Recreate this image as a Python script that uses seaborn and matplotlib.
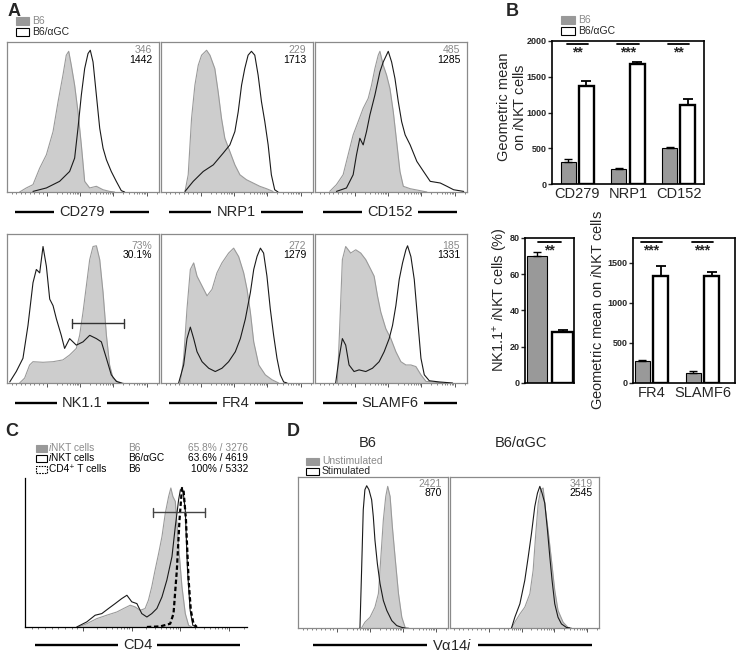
import numpy as np
import pandas as pd
import matplotlib
matplotlib.use("Agg")
import matplotlib.pyplot as plt
import seaborn as sns
from matplotlib.lines import Line2D
from matplotlib.patches import Rectangle

# ---------------- data ----------------
# Flow histograms: x = % of axis width, y = % of axis height
CD279_B6_X = [8.3, 12.7, 17.1, 21.5, 25.9, 30.3, 33.6, 36.8, 39.0, 40.6, 42.3, 44.5, 46.7, 48.9, 51.1, 54.4, 58.8, 63.2, 67.5, 70.8]
CD279_B6_Y = [0, 2.7, 4.9, 15.9, 24.8, 40.3, 60.2, 77.9, 91.2, 93.8, 84.5, 71.2, 53.5, 31.4, 7.1, 2.7, 3.8, 1.5, 0.4, 0]
CD279_AGC_X = [17.1, 25.9, 34.6, 41.2, 44.5, 46.7, 48.9, 51.1, 53.3, 54.8, 56.6, 58.8, 61.0, 63.2, 65.4, 68.6, 71.9, 75.2, 77.4]
CD279_AGC_Y = [0.4, 2.7, 7.1, 13.7, 22.6, 42.5, 64.6, 82.3, 92.3, 94.5, 86.7, 64.6, 42.5, 29.2, 21.5, 13.7, 7.1, 0.9, 0]

NRP1_B6_X = [15.8, 17.9, 20.1, 22.3, 24.5, 26.7, 30.0, 32.2, 35.4, 37.6, 39.8, 42.0, 45.3, 48.6, 51.9, 56.2, 60.6, 65.0, 69.4, 73.7]
NRP1_B6_Y = [0.4, 11.5, 49.1, 71.2, 84.5, 91.2, 94.5, 91.2, 82.3, 66.8, 49.1, 35.8, 27.0, 18.1, 11.5, 8.2, 6.0, 3.8, 2.2, 0.4]
NRP1_AGC_X = [15.8, 21.2, 27.8, 34.4, 40.9, 45.3, 48.6, 50.8, 53.0, 55.1, 57.3, 59.5, 61.7, 63.9, 66.1, 68.3, 70.5, 72.6, 74.8, 77.0]
NRP1_AGC_Y = [0.4, 7.1, 13.7, 18.1, 25.9, 31.4, 40.3, 53.5, 71.2, 82.3, 91.2, 93.8, 91.2, 77.9, 60.2, 46.9, 31.4, 11.5, 1.5, 0]

CD152_B6_X = [9.7, 14.1, 18.5, 21.8, 25.1, 28.4, 31.7, 35.0, 37.2, 39.4, 41.6, 42.7, 44.9, 47.1, 49.3, 51.5, 53.7, 55.9, 58.1, 62.6, 69.2, 73.6]
CD152_B6_Y = [0.4, 4.9, 11.5, 24.8, 38.1, 46.9, 55.8, 62.4, 71.2, 82.3, 91.2, 93.8, 84.5, 77.9, 69.0, 53.5, 33.6, 13.7, 3.8, 2.2, 0.9, 0]
CD152_AGC_X = [14.1, 20.7, 25.1, 27.3, 29.5, 31.7, 33.9, 36.1, 39.4, 42.7, 44.9, 48.2, 50.4, 52.6, 54.8, 57.0, 59.3, 62.6, 67.0, 71.4, 75.8, 82.4, 86.8, 91.2, 97.8]
CD152_AGC_Y = [0.4, 2.7, 11.5, 24.8, 35.8, 31.4, 40.3, 51.3, 64.6, 80.1, 86.7, 93.8, 86.7, 75.7, 60.2, 46.9, 38.1, 31.4, 20.4, 13.7, 7.1, 6.0, 3.8, 1.5, 0.4]

NK11_B6_X = [8.3, 11.6, 14.9, 17.1, 23.7, 30.3, 36.8, 41.2, 45.6, 47.8, 50.0, 52.2, 54.4, 56.6, 58.8, 61.0, 63.2, 65.4, 67.5, 69.7, 73.0, 76.3]
NK11_B6_Y = [0, 3.3, 12.1, 14.3, 13.9, 14.3, 15.5, 18.8, 23.2, 32.0, 47.5, 65.1, 82.8, 91.6, 92.1, 82.8, 60.7, 32.0, 12.1, 3.3, 0.7, 0]
NK11_AGC_X = [1.8, 6.1, 10.5, 13.8, 17.1, 19.3, 21.5, 23.7, 25.9, 28.1, 30.3, 32.5, 35.7, 37.9, 41.2, 45.6, 50.0, 54.4, 58.8, 62.1, 65.4, 68.6, 71.9, 75.2]
NK11_AGC_Y = [0.7, 7.7, 16.6, 38.6, 67.3, 76.2, 73.9, 91.6, 78.4, 56.3, 51.9, 43.0, 32.0, 23.2, 29.8, 25.4, 27.6, 32.0, 29.8, 27.6, 16.6, 5.5, 1.1, 0]

FR4_B6_X = [12.7, 14.9, 17.1, 19.3, 21.5, 23.7, 27.0, 30.3, 33.6, 36.8, 40.1, 44.5, 47.8, 51.1, 54.4, 56.6, 58.8, 61.0, 64.3, 68.6, 73.0, 77.4]
FR4_B6_Y = [0, 16.6, 49.7, 76.2, 80.6, 71.7, 65.1, 58.5, 62.9, 73.9, 80.6, 87.2, 90.5, 84.8, 73.9, 62.9, 47.5, 27.6, 12.1, 5.5, 2.2, 0]
FR4_AGC_X = [11.6, 14.9, 17.1, 19.3, 21.5, 23.7, 27.0, 31.4, 35.7, 40.1, 44.5, 48.9, 52.2, 55.5, 58.8, 61.0, 63.2, 65.4, 67.5, 69.7, 71.9, 74.1, 76.3, 78.5, 80.7, 82.9]
FR4_AGC_Y = [0, 12.1, 29.8, 37.5, 29.8, 21.0, 14.3, 9.9, 7.7, 9.9, 14.3, 21.0, 29.8, 43.0, 60.7, 76.2, 85.0, 90.5, 87.2, 71.7, 49.7, 32.0, 16.6, 5.5, 0.7, 0]

SLAMF6_B6_X = [14.7, 16.3, 18.0, 20.2, 23.5, 26.8, 30.1, 33.4, 36.7, 38.9, 41.1, 43.3, 46.6, 49.9, 53.2, 56.5, 59.8, 63.1, 66.4, 69.7, 73.0, 84.0]
SLAMF6_B6_Y = [0, 38.6, 82.8, 91.6, 87.2, 89.4, 87.2, 82.8, 76.2, 71.7, 58.5, 47.5, 36.4, 29.8, 21.0, 14.3, 12.1, 12.1, 11.0, 5.5, 1.1, 0]
SLAMF6_AGC_X = [13.6, 15.8, 18.0, 20.2, 22.4, 25.7, 29.0, 33.4, 37.8, 42.2, 45.5, 48.8, 51.0, 53.2, 55.4, 57.6, 59.8, 60.9, 63.1, 65.3, 67.5, 69.7, 71.9, 75.2, 81.8, 90.5]
SLAMF6_AGC_Y = [0, 16.6, 29.8, 25.4, 12.1, 7.7, 8.8, 7.7, 9.9, 14.3, 21.0, 29.8, 38.6, 51.9, 69.5, 80.6, 89.4, 92.1, 84.8, 69.5, 43.0, 16.6, 5.5, 1.5, 0.7, 0]

A_MARKERS = ["CD279", "NRP1", "CD152", "NK1.1", "FR4", "SLAMF6"]
A_B6_VALUES = ["346", "229", "485", "73%", "272", "185"]
A_AGC_VALUES = ["1442", "1713", "1285", "30.1%", "1279", "1331"]

# Panel C (CD4)
C_NKT_B6_X = [24.1, 27.8, 32.3, 36.8, 41.4, 44.4, 47.4, 49.6, 51.9, 54.1, 55.6, 57.1, 58.6, 60.2, 61.7, 63.2, 64.7, 65.7, 66.6, 67.7, 69.2, 70.7, 72.2, 73.7, 75.2]
C_NKT_B6_Y = [0, 2.2, 5.6, 7.9, 10.1, 12.4, 14.6, 13.5, 11.2, 12.4, 18.0, 27.0, 38.2, 49.4, 60.7, 76.4, 87.6, 93.3, 87.6, 84.3, 53.9, 27.0, 9.0, 1.1, 0]
C_NKT_AGC_X = [23.3, 27.8, 31.6, 34.6, 37.6, 40.6, 43.6, 45.9, 48.1, 50.4, 52.6, 54.9, 57.1, 59.4, 61.7, 63.9, 66.2, 67.7, 69.2, 70.0, 71.1, 72.2, 73.2, 74.4, 75.6, 77.1]
C_NKT_AGC_Y = [0, 3.4, 7.9, 9.0, 12.4, 15.7, 19.1, 21.3, 16.9, 15.7, 9.0, 6.7, 9.0, 12.4, 20.2, 31.5, 47.2, 67.4, 85.4, 92.1, 92.1, 78.7, 38.2, 11.2, 1.1, 0]
C_CD4T_X = [54.9, 60.9, 65.4, 66.9, 68.4, 69.6, 70.7, 71.4, 72.5, 73.7, 74.7, 75.9, 77.4]
C_CD4T_Y = [0, 0.4, 2.2, 9.0, 38.2, 71.9, 93.3, 92.1, 71.9, 31.5, 11.2, 2.2, 0]
C_ROW_PREFIX = ["i", "i", ""]
C_ROWS = ["NKT cells", "NKT cells", "CD4⁺ T cells"]
C_GROUPS = ["B6", "B6/αGC", "B6"]
C_STATS = ["65.8% / 3276", "63.6% / 4619", "100% / 5332"]

# Panel D (Va14i)
D_B6_UNSTIM_X = [42.4, 44.6, 48.0, 51.3, 53.6, 55.4, 56.9, 58.5, 59.8, 61.4, 62.9, 64.7, 67.0, 69.2, 71.4, 73.7]
D_B6_UNSTIM_Y = [0, 3.8, 7.1, 13.8, 22.7, 49.3, 71.6, 87.1, 93.8, 87.1, 67.1, 47.1, 22.7, 7.1, 0.4, 0]
D_B6_STIM_X = [41.3, 42.4, 43.5, 44.6, 45.8, 47.3, 49.1, 50.2, 51.3, 52.9, 54.7, 56.9, 59.2, 62.5, 65.8, 69.2, 71.4]
D_B6_STIM_Y = [0, 38.2, 78.2, 91.6, 94.2, 91.6, 84.9, 73.8, 58.2, 42.7, 29.3, 18.2, 11.6, 4.9, 1.6, 0.4, 0]
D_AGC_UNSTIM_X = [41.3, 43.5, 46.9, 50.2, 53.6, 55.8, 57.4, 59.2, 60.9, 62.5, 64.1, 65.8, 68.1, 70.3, 72.5, 75.9, 79.2, 81.5]
D_AGC_UNSTIM_Y = [0, 3.8, 9.3, 13.8, 22.7, 38.2, 60.4, 82.7, 91.6, 92.7, 78.2, 64.9, 44.9, 24.9, 11.6, 3.8, 0.4, 0]
D_AGC_STIM_X = [41.3, 43.5, 46.9, 50.2, 52.5, 54.7, 56.9, 58.7, 60.3, 61.8, 63.6, 65.4, 67.0, 68.5, 70.3, 72.5, 74.8, 78.1, 80.4]
D_AGC_STIM_Y = [0, 7.1, 16.0, 31.6, 47.1, 62.7, 80.4, 89.3, 93.8, 89.3, 82.7, 64.9, 47.1, 31.6, 16.0, 7.1, 2.7, 0.4, 0]
D_TITLES = ["B6", "B6/αGC"]
D_UNSTIM_VALUES = ["2421", "3419"]
D_STIM_VALUES = ["870", "2545"]

# Panel B bar charts
B_TOP_MARKERS = ["CD279", "NRP1", "CD152"]
B_TOP_B6 = [310, 210, 510]
B_TOP_B6_ERR = [35, 20, 10]
B_TOP_AGC = [1370, 1680, 1100]
B_TOP_AGC_ERR = [70, 30, 90]
B_TOP_STARS = ["**", "***", "**"]

B_NK_GROUPS = ["B6", "B6/αGC"]
B_NK_VALUES = [70, 28]
B_NK_ERR = [2, 1]
B_NK_STARS = ["**"]

B_BOT_MARKERS = ["FR4", "SLAMF6"]
B_BOT_B6 = [270, 125]
B_BOT_B6_ERR = [15, 25]
B_BOT_AGC = [1330, 1335]
B_BOT_AGC_ERR = [130, 45]
B_BOT_STARS = ["***", "***"]

# ---------------- style ----------------
sns.set_style("white")
plt.rcParams["font.family"] = ["Liberation Sans", "DejaVu Sans"]
plt.rcParams["mathtext.fontset"] = "custom"
plt.rcParams["mathtext.rm"] = "Liberation Sans"
plt.rcParams["mathtext.it"] = "Liberation Sans:italic"
plt.rcParams["mathtext.bf"] = "Liberation Sans:bold"

W, H = 739, 655
FILL = "#cdcdcd"
FILL_EDGE = "#9a9a9a"
BAR_GRAY = "#999999"
TXT_GRAY = "#8a8a8a"
FRAME = "#8a8a8a"

fig = plt.figure(figsize=(W / 100, H / 100), dpi=100)
fig.patch.set_facecolor("white")
RENDERER = fig.canvas.get_renderer()


def fx(px):
    return px / W


def fy(py):
    return 1 - py / H


def add_ax(l, t, r, b):
    return fig.add_axes([l / W, 1 - b / H, (r - l) / W, (b - t) / H])


def ftext(x, y, s, **kw):
    kw.setdefault("va", "center")
    return fig.text(fx(x), fy(y), s, **kw)


def text_right_px(t):
    bb = t.get_window_extent(RENDERER)
    return bb.x0, bb.x1


def fline(x0, x1, y, lw=1.7, color="black"):
    fig.add_artist(Line2D([fx(x0), fx(x1)], [fy(y), fy(y)], transform=fig.transFigure,
                          color=color, lw=lw, solid_capstyle="butt"))


def fpatch(x0, yc, w, h, fc, ec, ls="-", lw=0.8):
    fig.add_artist(Rectangle((fx(x0), fy(yc + h / 2)), w / W, h / H, transform=fig.transFigure,
                             fc=fc, ec=ec, ls=ls, lw=lw))


def flow_ticks(ax, color="#555555"):
    major = [26, 48, 70, 92]
    minor = [3, 6, 9, 12, 15, 18, 21, 23.5]
    for i in range(len(major) - 1):
        for k in range(2, 10):
            minor.append(major[i] + (major[i + 1] - major[i]) * np.log10(k))
    for k in range(2, 10):
        v = 92 + 22 * np.log10(k)
        if v < 100:
            minor.append(v)
    ax.set_xticks(major)
    ax.set_xticks(minor, minor=True)
    ax.set_xticklabels([])
    ax.set_yticks([])
    ax.tick_params(axis="x", which="major", direction="out", length=3, width=0.7, color=color, bottom=True)
    ax.tick_params(axis="x", which="minor", direction="out", length=1.7, width=0.5, color=color, bottom=True)


def draw_hist(ax, gx, gy, bx, by, frame_color=FRAME, all_spines=True):
    ax.fill_between(gx, gy, 0, color=FILL, lw=0, zorder=1)
    sns.lineplot(x=gx, y=gy, ax=ax, color=FILL_EDGE, lw=0.8, estimator=None, sort=False, zorder=2)
    sns.lineplot(x=bx, y=by, ax=ax, color="#1a1a1a", lw=0.8, estimator=None, sort=False, zorder=3)
    ax.set_xlim(0, 100)
    ax.set_ylim(0, 100)
    ax.set_xlabel("")
    ax.set_ylabel("")
    ax.set_facecolor("white")
    flow_ticks(ax)
    for name, sp in ax.spines.items():
        sp.set_color(frame_color)
        sp.set_linewidth(0.9)
        if not all_spines and name in ("top", "right"):
            sp.set_visible(False)


def axis_label(l, r, y, text):
    """Marker name under a histogram, with a bar on either side."""
    t = ftext((l + r) / 2, y, text, ha="center", fontsize=10.5)
    x0, x1 = text_right_px(t)
    fline(l, x0 - 5, y)
    fline(x1 + 5, r, y)


def gate(ax, x0, x1, y, color="#333333"):
    ax.plot([x0, x1], [y, y], color=color, lw=1.0, zorder=4)
    for xx in (x0, x1):
        ax.plot([xx, xx], [y - 3, y + 3], color=color, lw=1.0, zorder=4)


# ---------------- Panel A ----------------
ftext(14, 11, "A", ha="center", fontsize=13, fontweight="bold")
fpatch(16, 21, 13, 8, BAR_GRAY, BAR_GRAY)
fpatch(16, 32, 13, 8, "white", "black")
ftext(32, 21, "B6", fontsize=7.5, color=TXT_GRAY)
ftext(32, 32, "B6/αGC", fontsize=7.5)

a_boxes = [(7, 42, 159, 192), (161, 42, 313, 192), (315, 42, 467, 192),
           (7, 234, 159, 383), (161, 234, 313, 383), (315, 234, 467, 383)]
a_curves = [(CD279_B6_X, CD279_B6_Y, CD279_AGC_X, CD279_AGC_Y),
            (NRP1_B6_X, NRP1_B6_Y, NRP1_AGC_X, NRP1_AGC_Y),
            (CD152_B6_X, CD152_B6_Y, CD152_AGC_X, CD152_AGC_Y),
            (NK11_B6_X, NK11_B6_Y, NK11_AGC_X, NK11_AGC_Y),
            (FR4_B6_X, FR4_B6_Y, FR4_AGC_X, FR4_AGC_Y),
            (SLAMF6_B6_X, SLAMF6_B6_Y, SLAMF6_AGC_X, SLAMF6_AGC_Y)]
for i, (box, cur) in enumerate(zip(a_boxes, a_curves)):
    ax = add_ax(*box)
    draw_hist(ax, *cur)
    h = box[3] - box[1]
    off1, off2 = (8, 18) if i < 3 else (12, 21)
    ax.text(95.5, 100 - off1 / h * 100, A_B6_VALUES[i], ha="right", va="center", fontsize=7.5, color=TXT_GRAY)
    ax.text(95.5, 100 - off2 / h * 100, A_AGC_VALUES[i], ha="right", va="center", fontsize=7.5, color="black")
    if A_MARKERS[i] == "NK1.1":
        gate(ax, 43, 77, 40)
    ly = 212 if i < 3 else 403
    axis_label(box[0] + 8, box[2] - 10, ly, A_MARKERS[i])

# ---------------- Panel B ----------------
ftext(512, 11, "B", ha="center", fontsize=13, fontweight="bold")
fpatch(561, 20, 14, 8, BAR_GRAY, BAR_GRAY)
fpatch(561, 31, 14, 8, "white", "black")
ftext(578, 20, "B6", fontsize=7.5, color=TXT_GRAY)
ftext(578, 31, "B6/αGC", fontsize=7.5)


def style_bar_axes(ax, yticks, ylim, xlim):
    ax.set_ylim(*ylim)
    ax.set_xlim(*xlim)
    ax.set_yticks(yticks)
    ax.set_yticklabels([str(v) for v in yticks], fontweight="bold")
    ax.tick_params(axis="y", direction="out", length=3, width=1, labelsize=6.5, pad=1, left=True)
    ax.tick_params(axis="x", length=0, labelsize=10.5, pad=2)
    ax.set_xlabel("")
    ax.set_ylabel("")
    for sp in ax.spines.values():
        sp.set_color("black")
        sp.set_linewidth(1.2)


def finish_bars(ax, err_lookup):
    for p in ax.patches:
        cx = p.get_x() + p.get_width() / 2
        top = p.get_height()
        white = p.get_facecolor()[0] > 0.9
        p.set_edgecolor("black")
        p.set_linewidth(1.7 if white else 0.8)
        e = err_lookup(int(round(cx)), white)
        ax.errorbar([cx], [top], yerr=[[0], [e]], fmt="none", ecolor="black",
                    elinewidth=1.3 if white else 1.0, capsize=3.5 if white else 3,
                    capthick=1.3 if white else 1.0, zorder=5)


def sig(ax, centers, stars, line_y, star_y, half=0.21):
    for c, s in zip(centers, stars):
        ax.plot([c - half, c + half], [line_y, line_y], color="black", lw=1.3, clip_on=False)
        ax.text(c, star_y, s, ha="center", va="top", fontsize=10, fontweight="bold")


# top bar chart
axb = add_ax(552, 41, 704, 184)
df_top = pd.DataFrame({"marker": B_TOP_MARKERS * 2,
                       "group": ["B6"] * 3 + ["B6/αGC"] * 3,
                       "value": B_TOP_B6 + B_TOP_AGC})
sns.barplot(data=df_top, x="marker", y="value", hue="group",
            palette={"B6": BAR_GRAY, "B6/αGC": "white"}, width=0.72, gap=0.17,
            errorbar=None, legend=False, ax=axb)
finish_bars(axb, lambda i, w: B_TOP_AGC_ERR[i] if w else B_TOP_B6_ERR[i])
style_bar_axes(axb, [0, 500, 1000, 1500, 2000], (0, 2000), (-0.5, 2.5))
sig(axb, [0, 1, 2], B_TOP_STARS, 1955, 1935)
ftext(504, 107, "Geometric mean", rotation=90, ha="center", fontsize=10.5)
ftext(519, 107, "on $\\mathit{i}$NKT cells", rotation=90, ha="center", fontsize=10.5)

# NK1.1 percentage chart
axn = add_ax(525, 238, 574, 383)
df_nk = pd.DataFrame({"group": B_NK_GROUPS, "value": B_NK_VALUES})
sns.barplot(data=df_nk, x="group", y="value", hue="group",
            palette={"B6": BAR_GRAY, "B6/αGC": "white"}, width=0.8,
            errorbar=None, legend=False, ax=axn)
finish_bars(axn, lambda i, w: B_NK_ERR[i])
style_bar_axes(axn, [0, 20, 40, 60, 80], (0, 80), (-0.47, 1.45))
axn.set_xticklabels([])
sig(axn, [0.5], B_NK_STARS, 77.6, 77.0, half=0.45)
ftext(500, 300, "NK1.1$^{+}$ $\\mathit{i}$NKT cells (%)", rotation=90, ha="center", fontsize=10.5)

# FR4 / SLAMF6 chart
axf = add_ax(633, 238, 735, 383)
df_bot = pd.DataFrame({"marker": B_BOT_MARKERS * 2,
                       "group": ["B6"] * 2 + ["B6/αGC"] * 2,
                       "value": B_BOT_B6 + B_BOT_AGC})
sns.barplot(data=df_bot, x="marker", y="value", hue="group",
            palette={"B6": BAR_GRAY, "B6/αGC": "white"}, width=0.72, gap=0.17,
            errorbar=None, legend=False, ax=axf)
finish_bars(axf, lambda i, w: B_BOT_AGC_ERR[i] if w else B_BOT_B6_ERR[i])
style_bar_axes(axf, [0, 500, 1000, 1500], (0, 1810), (-0.36, 1.64))
sig(axf, [0, 1], B_BOT_STARS, 1762, 1745)
ftext(597, 310, "Geometric mean on $\\mathit{i}$NKT cells", rotation=90, ha="center", fontsize=10.5)

# ---------------- Panel C ----------------
ftext(12, 432, "C", ha="center", fontsize=13, fontweight="bold")
c_styles = [(BAR_GRAY, BAR_GRAY, "-"), ("white", "black", "-"), ("white", "black", (0, (1.5, 1)))]
c_colors = [TXT_GRAY, "black", "black"]
for k, y in enumerate([448, 458, 469]):
    fc, ec, ls = c_styles[k]
    fpatch(36, y, 11, 7, fc, ec, ls=ls)
    x_next = 49
    if C_ROW_PREFIX[k]:
        t = ftext(x_next, y, C_ROW_PREFIX[k], fontsize=7.3, color=c_colors[k], style="italic")
        x_next = text_right_px(t)[1]
    ftext(x_next, y, C_ROWS[k], fontsize=7.3, color=c_colors[k])
    ftext(128, y, C_GROUPS[k], fontsize=7.3, color=c_colors[k])
    ftext(248, y, C_STATS[k], ha="right", fontsize=7.3, color=c_colors[k])

axc = add_ax(25, 478, 247, 627)
draw_hist(axc, C_NKT_B6_X, C_NKT_B6_Y, C_NKT_AGC_X, C_NKT_AGC_Y, frame_color="black", all_spines=False)
sns.lineplot(x=C_CD4T_X, y=C_CD4T_Y, ax=axc, color="black", lw=1.6, estimator=None, sort=False,
             zorder=4, dashes=False)
axc.lines[-1].set_linestyle((0, (2, 1.2)))
axc.set_xlabel("")
axc.set_ylabel("")
gate(axc, 57.6, 81.2, 77, color="#444444")
axis_label(35, 240, 645, "CD4")

# ---------------- Panel D ----------------
ftext(293, 432, "D", ha="center", fontsize=13, fontweight="bold")
ftext(368, 443, D_TITLES[0], ha="center", fontsize=10.5)
ftext(521, 443, D_TITLES[1], ha="center", fontsize=10.5)
fpatch(306, 461, 13, 7, BAR_GRAY, BAR_GRAY)
fpatch(306, 471, 13, 7, "white", "black")
ftext(322, 461, "Unstimulated", fontsize=7.5, color=TXT_GRAY)
ftext(322, 471, "Stimulated", fontsize=7.5)

d_boxes = [(298, 477, 448, 628), (450, 477, 599, 628)]
d_curves = [(D_B6_UNSTIM_X, D_B6_UNSTIM_Y, D_B6_STIM_X, D_B6_STIM_Y),
            (D_AGC_UNSTIM_X, D_AGC_UNSTIM_Y, D_AGC_STIM_X, D_AGC_STIM_Y)]
for i, (box, cur) in enumerate(zip(d_boxes, d_curves)):
    ax = add_ax(*box)
    draw_hist(ax, *cur)
    h = box[3] - box[1]
    ax.text(96, 100 - 7 / h * 100, D_UNSTIM_VALUES[i], ha="right", va="center", fontsize=7.5, color=TXT_GRAY)
    ax.text(96, 100 - 16 / h * 100, D_STIM_VALUES[i], ha="right", va="center", fontsize=7.5, color="black")
axis_label(313, 592, 645, "Vα14$\\mathit{i}$")

fig.savefig("out.png", dpi=100, facecolor="white")
